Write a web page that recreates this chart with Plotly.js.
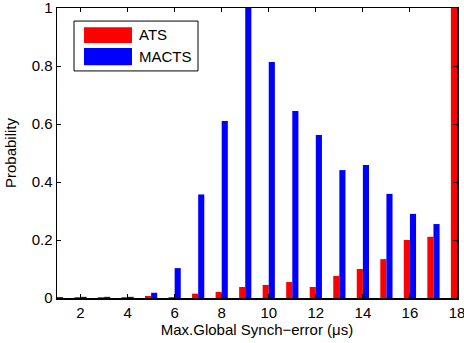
<!DOCTYPE html>
<html>
<head>
<meta charset="utf-8">
<script src="https://cdn.plot.ly/plotly-3.0.1.min.js"></script>
<style>html,body{margin:0;padding:0;background:#fff;}#chart{width:464px;height:343px;}</style>
</head>
<body>
<div id="chart"></div>
<script>
const xValues = [1,2,3,4,5,6,7,8,9,10,11,12,13,14,15,16,17,18];
const atsValues = [0.002,0.003,0.003,0.003,0.007,0.003,0.015,0.021,0.038,0.045,0.055,0.038,0.076,0.100,0.134,0.200,0.211,1.0];
const mactsValues = [0.003,0.004,0.004,0.004,0.018,0.103,0.357,0.610,1.0,0.814,0.645,0.562,0.441,0.459,0.359,0.290,0.255,0];
const seriesNames = ["ATS", "MACTS"];
const seriesColors = ["#ff0000", "#0000ff"];
const xTicks = [2,4,6,8,10,12,14,16,18];
const yTicks = [0,0.2,0.4,0.6,0.8,1];
const yTickLabels = ["0","0.2","0.4","0.6","0.8","1"];

const FONT = "Liberation Sans, Arial, Helvetica, sans-serif";

const traces = [
  {type:"bar", x:xValues, y:atsValues, name:seriesNames[0], marker:{color:seriesColors[0], line:{width:0}}},
  {type:"bar", x:xValues, y:mactsValues, name:seriesNames[1], marker:{color:seriesColors[1], line:{width:0}}}
];

// legend drawn as decoration (paper coordinates)
const shapes = [
  {type:"rect", xref:"paper", yref:"paper", x0:0.0425, x1:0.3525, y0:0.783, y1:0.955, line:{color:"#000", width:1}, fillcolor:"#fff"},
  {type:"rect", xref:"paper", yref:"paper", x0:0.0675, x1:0.1875, y0:0.879, y1:0.934, line:{width:0}, fillcolor:seriesColors[0]},
  {type:"rect", xref:"paper", yref:"paper", x0:0.0675, x1:0.1875, y0:0.803, y1:0.862, line:{width:0}, fillcolor:seriesColors[1]}
];
const annotations = [
  {xref:"paper", yref:"paper", x:0.2, y:0.907, xanchor:"left", yanchor:"middle", text:seriesNames[0], showarrow:false, font:{family:FONT, size:15, color:"#000"}},
  {xref:"paper", yref:"paper", x:0.2, y:0.834, xanchor:"left", yanchor:"middle", text:seriesNames[1], showarrow:false, font:{family:FONT, size:15, color:"#000"}}
];

const layout = {
  width:464, height:343,
  margin:{l:57, r:7, t:8, b:45},
  paper_bgcolor:"#fff", plot_bgcolor:"#fff",
  font:{family:FONT, size:15, color:"#000"},
  showlegend:false,
  barmode:"group",
  bargap:0.48,
  bargroupgap:0,
  xaxis:{
    range:[1,18], tickvals:xTicks, ticktext:xTicks.map(String),
    ticks:"inside", ticklen:4, tickcolor:"#000", tickwidth:1,
    showline:true, linecolor:"#000", linewidth:1.5, mirror:"ticks",
    showgrid:false, zeroline:false, ticklabeloverflow:"allow",
    title:{text:"Max.Global Synch\u2212error (\u03bcs)", font:{family:FONT, size:15}, standoff:4},
    automargin:false, fixedrange:true
  },
  yaxis:{
    range:[0,1], tickvals:yTicks, ticktext:yTickLabels,
    ticks:"inside", ticklen:4, tickcolor:"#000", tickwidth:1,
    showline:true, linecolor:"#000", linewidth:1.5, mirror:"ticks",
    showgrid:false, zeroline:false, ticklabeloverflow:"allow",
    title:{text:"Probability", font:{family:FONT, size:15}, standoff:11},
    automargin:false, fixedrange:true
  },
  shapes:shapes,
  annotations:annotations
};

Plotly.newPlot("chart", traces, layout, {staticPlot:true, displayModeBar:false});
</script>
</body>
</html>
